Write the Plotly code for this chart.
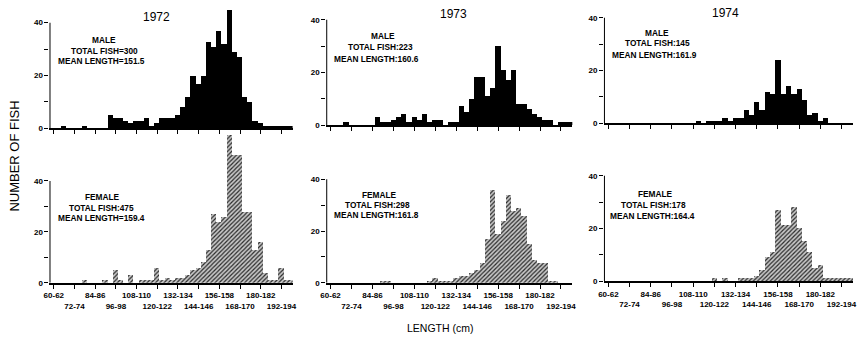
import plotly.graph_objects as go

# ---------------- data ----------------
BIN_LOWER_CM = [60, 63, 66, 69, 72, 75, 78, 81, 84, 87, 90, 93, 96, 99, 102, 105,
                108, 111, 114, 117, 120, 123, 126, 129, 132, 135, 138, 141, 144, 147,
                150, 153, 156, 159, 162, 165, 168, 171, 174, 177, 180, 183, 186, 189,
                192, 195, 198]

TICK_LABELS = ["60-62", "72-74", "84-86", "96-98", "108-110", "120-122",
               "132-134", "144-146", "156-158", "168-170", "180-182", "192-194"]
TICK_LOWER = [60, 72, 84, 96, 108, 120, 132, 144, 156, 168, 180, 192]

YEARS = ["1972", "1973", "1974"]

male_1972 = [0, 0, 1, 0, 0, 0, 1, 0, 0, 0, 0, 5, 4, 4, 3, 2, 3, 3, 4, 1, 2, 4, 4, 4,
             5, 8, 12, 20, 17, 20, 33, 31, 37, 32, 45, 29, 27, 12, 10, 3, 2, 1, 1, 1,
             1, 1, 1]
male_1973 = [0, 0, 0, 1, 0, 0, 0, 0, 0, 3, 1, 1, 2, 3, 4, 1, 3, 2, 4, 1, 2, 2, 0, 1,
             1, 7, 5, 10, 18, 18, 11, 14, 30, 21, 17, 21, 8, 8, 6, 4, 3, 2, 2, 0, 1,
             1, 1]
male_1974 = [0, 0, 0, 0, 0, 0, 0, 0, 0, 0, 0, 0, 0, 0, 0, 0, 0, 1, 0, 1, 1, 1, 2, 1,
             2, 2, 5, 3, 8, 5, 12, 11, 24, 11, 14, 11, 13, 9, 3, 4, 1, 2, 0, 0, 0,
             0, 0]
female_1972 = [0, 0, 0, 0, 0, 0, 1, 0, 0, 0, 1, 0, 5, 1, 0, 3, 0, 1, 1, 1, 6, 1, 2, 1,
               2, 2, 3, 5, 6, 8, 13, 27, 24, 26, 58, 50, 50, 28, 28, 13, 16, 4, 1, 1,
               6, 1, 1]
female_1973 = [0, 0, 0, 0, 0, 0, 0, 0, 0, 0, 1, 1, 0, 0, 0, 0, 0, 0, 0, 1, 2, 1, 1, 1,
               2, 3, 3, 4, 5, 8, 17, 36, 19, 24, 34, 28, 29, 26, 15, 9, 8, 8, 1, 1, 0,
               0, 0]
female_1974 = [0, 0, 0, 0, 0, 0, 0, 0, 0, 0, 0, 0, 0, 0, 0, 0, 0, 0, 0, 0, 1, 0, 1, 0,
               0, 1, 1, 1, 2, 4, 9, 11, 27, 21, 21, 28, 20, 15, 11, 5, 6, 1, 1, 1, 1,
               1, 1]

male_info = [("MALE", "TOTAL FISH=300", "MEAN LENGTH=151.5"),
             ("MALE", "TOTAL FISH:223", "MEAN LENGTH:160.6"),
             ("MALE", "TOTAL FISH:145", "MEAN LENGTH:161.9")]
female_info = [("FEMALE", "TOTAL FISH:475", "MEAN LENGTH=159.4"),
               ("FEMALE", "TOTAL FISH:298", "MEAN LENGTH:161.8"),
               ("FEMALE", "TOTAL FISH:178", "MEAN LENGTH:164.4")]

# ---------------- layout helpers ----------------
W, H = 858, 345
FONT = "Liberation Sans, Arial, DejaVu Sans"
centers = [b + 1 for b in BIN_LOWER_CM]
tickvals = [t + 1 for t in TICK_LOWER]
ticktext = [lab if i % 2 == 0 else "<br>" + lab for i, lab in enumerate(TICK_LABELS)]

cols_px = [(44, 290), (324, 573), (605, 857)]
top_px = [(130, 2.675, 48), (127, 2.675, 47), (125, 2.675, 46)]
bot_px = [(287, 2.585, 60), (287, 2.63, 58), (285.5, 2.68, 56)]


def xdom(a, b):
    return [a / W, b / W]


def ydom(y0, ppu, ymax):
    return [(H - y0) / H, min(1.0, (H - (y0 - ppu * ymax)) / H)]


def px(x, y):
    return x / W, (H - y) / H


fig = go.Figure()
layout = {}
shapes = []

males = [male_1972, male_1973, male_1974]
females = [female_1972, female_1973, female_1974]

n = 0
for row in range(2):
    for col in range(3):
        n += 1
        sfx = "" if n == 1 else str(n)
        if row == 0:
            y0, ppu, ymax = top_px[col]
            vals = males[col]
            marker = dict(color="black", line=dict(width=0))
        else:
            y0, ppu, ymax = bot_px[col]
            vals = females[col]
            marker = dict(color="#cfcfcf", line=dict(width=0),
                          pattern=dict(shape="/", fgcolor="#2a2a2a", bgcolor="#c8c8c8",
                                       size=3, solidity=0.4, fillmode="replace"))
        fig.add_trace(go.Bar(x=centers, y=vals, width=3, marker=marker,
                             xaxis="x" + sfx, yaxis="y" + sfx, showlegend=False))
        layout["xaxis" + sfx] = dict(
            domain=xdom(*cols_px[col]), range=[58.5, 199.5], anchor="y" + sfx,
            showline=True, linecolor="black", linewidth=2, showgrid=False,
            zeroline=False, ticks="outside", ticklen=4, tickwidth=1.2,
            tickcolor="black", tickvals=tickvals, ticktext=ticktext,
            showticklabels=(row == 1), tickangle=0,
            tickfont=dict(family=FONT, size=8, color="black", weight="bold"))
        layout["yaxis" + sfx] = dict(
            domain=ydom(y0, ppu, ymax), range=[0, ymax], anchor="x" + sfx,
            showline=False, showgrid=False, zeroline=False,
            ticks="outside", ticklen=4, tickwidth=1.2, tickcolor="black",
            tickvals=[0, 10, 20, 30, 40], ticktext=["0", "", "20", "", "40"],
            tickfont=dict(family=FONT, size=8, color="black", weight="bold"))
        shapes.append(dict(type="line", xref="x" + sfx, yref="y" + sfx,
                           x0=58.5, x1=58.5, y0=0, y1=40,
                           line=dict(color="black", width=2)))

annotations = []
# year titles
for (x, y), yr in zip([(152, 17), (453, 14), (728, 13)], YEARS):
    ax, ay = px(x, y)
    annotations.append(dict(text=yr, x=ax, y=ay, xref="paper", yref="paper",
                            showarrow=False, xanchor="center", yanchor="middle",
                            font=dict(family=FONT, size=12, color="black")))

male_pos = [[(99, 41), (100, 52), (97, 62)],
            [(381, 37), (379, 48), (375, 60)],
            [(659, 33), (659, 44), (656, 56)]]
female_pos = [[(98, 200), (97, 211), (97, 221)],
              [(378, 198), (376, 208), (375, 218)],
              [(657, 197), (655, 208), (654, 219)]]
for infos, poss in [(male_info, male_pos), (female_info, female_pos)]:
    for info, pos in zip(infos, poss):
        for txt, (x, y) in zip(info, pos):
            ax, ay = px(x, y)
            annotations.append(dict(text=txt, x=ax, y=ay, xref="paper", yref="paper",
                                    showarrow=False, xanchor="center", yanchor="middle",
                                    font=dict(family=FONT, size=8.3, color="black",
                                              weight="bold")))

ax, ay = px(9, 158)
annotations.append(dict(text="NUMBER OF FISH", x=ax, y=ay, xref="paper", yref="paper",
                        showarrow=False, textangle=-90, xanchor="center", yanchor="middle",
                        font=dict(family=FONT, size=13, color="black")))
ax, ay = px(440, 333)
annotations.append(dict(text="LENGTH (cm)", x=ax, y=ay, xref="paper", yref="paper",
                        showarrow=False, xanchor="center", yanchor="middle",
                        font=dict(family=FONT, size=10.5, color="black")))

fig.update_layout(width=W, height=H, margin=dict(l=0, r=0, t=0, b=0),
                  paper_bgcolor="white", plot_bgcolor="white", bargap=0,
                  annotations=annotations, shapes=shapes, **layout)

fig.write_html("out.html")
